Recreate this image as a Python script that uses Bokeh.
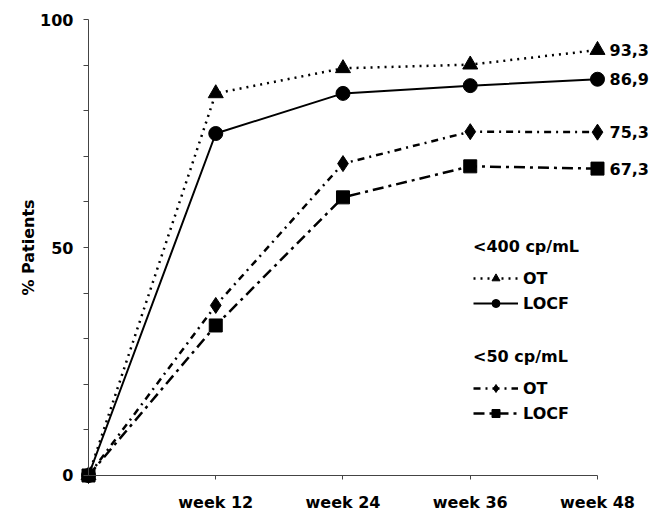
import math
from bokeh.plotting import figure
from bokeh.models import Range1d, LinearAxis, FixedTicker, Legend, LegendItem, Label
from bokeh.core.properties import value
from bokeh.embed import file_html
from bokeh.resources import INLINE

# ---- data ----
weeks = [0, 12, 24, 36, 48]
tick_weeks = [12, 24, 36, 48]
tick_labels = ["week 12", "week 24", "week 36", "week 48"]
ot_400 = [0, 83.8, 89.3, 90.1, 93.3]
locf_400 = [0, 75.0, 83.8, 85.5, 86.9]
ot_50 = [0, 37.3, 68.4, 75.4, 75.3]
locf_50 = [0, 32.9, 61.0, 67.8, 67.3]
y_major = [0, 50, 100]
y_minor = [10, 20, 30, 40, 60, 70, 80, 90]

FONT = value("DejaVu Sans")
FS = "16px"

p = figure(width=655, height=519,
           x_range=Range1d(-8.299, 53.47), y_range=Range1d(-9.65, 104.17),
           x_axis_location=None, y_axis_location=None,
           min_border_left=0, min_border_right=0, min_border_top=0, min_border_bottom=0,
           min_border=0,
           output_backend="svg", toolbar_location=None)
p.xgrid.visible = False
p.ygrid.visible = False
p.outline_line_color = None

# y axis at x=0
yax = LinearAxis(fixed_location=0, bounds=(0, 100),
                 ticker=FixedTicker(ticks=y_major, minor_ticks=y_minor))
yax.axis_line_color = "#444444"
yax.major_tick_line_color = "#444444"
yax.minor_tick_line_color = "#444444"
yax.major_tick_in = 0
yax.major_tick_out = 5
yax.minor_tick_in = 0
yax.minor_tick_out = 5
yax.major_label_standoff = 10
yax.major_label_text_font = "DejaVu Sans"
yax.major_label_text_font_style = "bold"
yax.major_label_text_font_size = FS
yax.major_label_text_color = "black"
p.add_layout(yax, "left")

# x axis at y=0
xax = LinearAxis(fixed_location=0, bounds=(0, 48),
                 ticker=FixedTicker(ticks=tick_weeks))
xax.major_label_overrides = {w: t for w, t in zip(tick_weeks, tick_labels)}
xax.axis_line_color = "#444444"
xax.major_tick_line_color = "#444444"
xax.major_tick_in = 0
xax.major_tick_out = 4
xax.minor_tick_line_color = None
xax.major_label_standoff = 14
xax.major_label_text_font = "DejaVu Sans"
xax.major_label_text_font_style = "bold"
xax.major_label_text_font_size = FS
xax.major_label_text_color = "black"
p.add_layout(xax, "below")

# y-axis title
p.add_layout(Label(x=28, y=272, x_units="screen", y_units="screen",
                   text="% Patients", angle=math.pi / 2,
                   text_align="center", text_baseline="middle",
                   text_font="DejaVu Sans", text_font_style="bold",
                   text_font_size=FS, text_color="black"))

# series
l1 = p.line(weeks, ot_400, line_color="black", line_width=2.5, line_dash="2 5")
m1 = p.scatter(weeks, ot_400, marker="triangle", size=15, color="black")
l2 = p.line(weeks, locf_400, line_color="black", line_width=2)
m2 = p.scatter(weeks, locf_400, marker="circle", size=14, color="black")
l3 = p.line(weeks, ot_50, line_color="black", line_width=2.5, line_dash="7 5 2 5")
m3 = p.scatter(weeks, ot_50, marker="diamond", size=16, color="black")
l4 = p.line(weeks, locf_50, line_color="black", line_width=2.5, line_dash="11 5 3 5")
m4 = p.scatter(weeks, locf_50, marker="square", size=13, color="black")

# end labels
finals = [ot_400[-1], locf_400[-1], ot_50[-1], locf_50[-1]]
p.text(x=[weeks[-1]] * 4, y=finals,
       text=[f"{v:.1f}".replace(".", ",") for v in finals],
       x_offset=12, text_baseline="middle", text_align="left",
       text_font=FONT, text_font_style="bold", text_font_size=FS, text_color="black")


def make_legend(title, items, loc):
    lg = Legend(items=items, location=loc, title=title)
    lg.padding = 0
    lg.margin = 0
    lg.border_line_color = None
    lg.background_fill_alpha = 0
    lg.title_text_font = "DejaVu Sans"
    lg.title_text_font_style = "bold"
    lg.title_text_font_size = FS
    lg.title_text_color = "black"
    lg.title_standoff = 12
    lg.label_text_font = "DejaVu Sans"
    lg.label_text_font_style = "bold"
    lg.label_text_font_size = FS
    lg.label_text_color = "black"
    lg.glyph_width = 45
    lg.glyph_height = 20
    lg.label_height = 20
    lg.label_standoff = 5
    lg.spacing = 5
    return lg


leg1 = make_legend("<400 cp/mL",
                   [LegendItem(label="OT", renderers=[l1, m1]),
                    LegendItem(label="LOCF", renderers=[l2, m2])], (473, 206))
leg2 = make_legend("<50 cp/mL",
                   [LegendItem(label="OT", renderers=[l3, m3]),
                    LegendItem(label="LOCF", renderers=[l4, m4])], (473, 96))
p.add_layout(leg1, "center")
p.add_layout(leg2, "center")

open("out.html", "w").write(file_html(p, INLINE))
